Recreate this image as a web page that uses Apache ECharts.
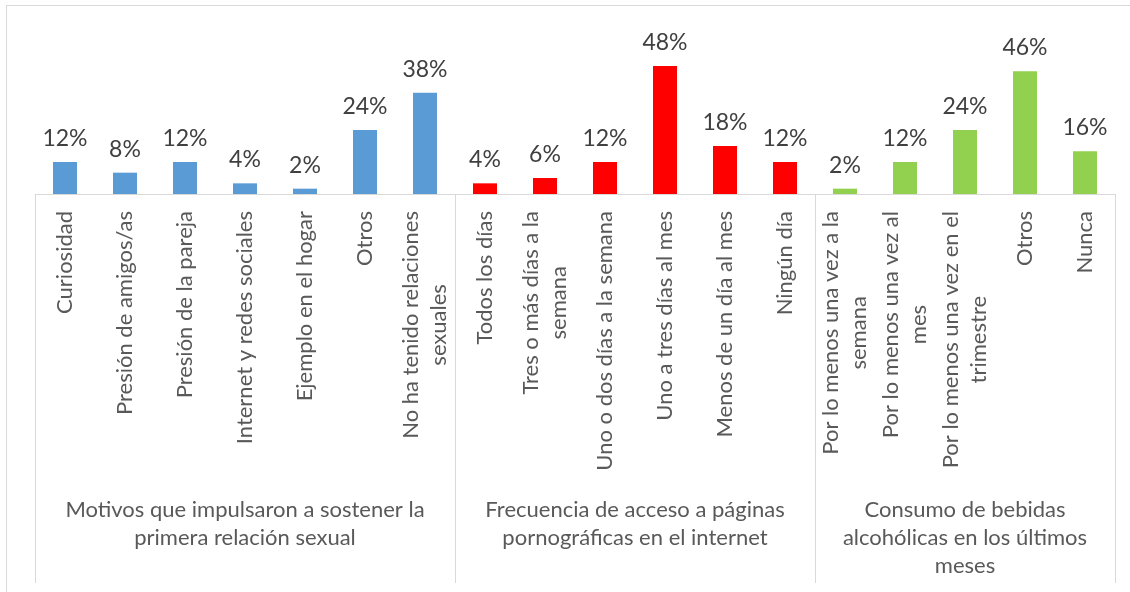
<!DOCTYPE html>
<html>
<head>
<meta charset="utf-8">
<script src="https://cdn.jsdelivr.net/npm/echarts@6/dist/echarts.min.js"></script>
<style>
  html, body { margin: 0; padding: 0; background: #fff; overflow: hidden; }
  .frame {
    position: absolute; left: 6px; top: 5px;
    width: 1200px; height: 700px;
    border: 1px solid #d9d9d9;
  }
  #chart { position: absolute; left: 0; top: 0; width: 1130px; height: 592px; }
</style>
</head>
<body>
<div class="frame"></div>
<div id="chart"></div>
<script>
// grupos de categorías
const groupNames = [
  'Motivos que impulsaron a sostener la\nprimera relación sexual',
  'Frecuencia de acceso a páginas\npornográficas en el internet',
  'Consumo de bebidas\nalcohólicas en los últimos\nmeses'
]
const motivos = ['Curiosidad', 'Presión de amigos/as', 'Presión de la pareja',
  'Internet y redes sociales', 'Ejemplo en el hogar', 'Otros', 'No ha tenido relaciones\nsexuales']
const frecuencia = ['Todos los días', 'Tres o más días a la\nsemana', 'Uno o dos días a la semana',
  'Uno a tres días al mes', 'Menos de un día al mes', 'Ningún día']
const consumo = ['Por lo menos una vez a la\nsemana', 'Por lo menos una vez al\nmes',
  'Por lo menos una vez en el\ntrimestre', 'Otros', 'Nunca']

// porcentajes
const motivosVals = [12, 8, 12, 4, 2, 24, 38]
const frecuenciaVals = [4, 6, 12, 48, 18, 12]
const consumoVals = [2, 12, 24, 46, 16]

const colors = ['#5b9bd5', '#ff0000', '#92d050']

const groups = [motivos, frecuencia, consumo]
const categories = [].concat(motivos, frecuencia, consumo)
const values = [].concat(motivosVals, frecuenciaVals, consumoVals)

// inicio de cada grupo y su centro (en unidades de categoría)
const starts = []
const centers = []
let acc = 0
groups.forEach(g => {
  starts.push(acc)
  centers.push(acc + g.length / 2)
  acc += g.length
})

const seriesData = values.map((v, i) => {
  let gi = 0
  while (gi < starts.length - 1 && i >= starts[gi + 1]) gi++
  return { value: v, itemStyle: { color: colors[gi] } }
})

const font = 'Lato'
const chart = echarts.init(document.getElementById('chart'))

const option = {
  animation: false,
  grid: { left: 35, right: 15, top: 34, bottom: 398, containLabel: false },
  xAxis: [
    {
      type: 'category',
      data: categories,
      axisLine: { lineStyle: { color: '#d9d9d9', width: 1 } },
      axisTick: {
        show: true,
        interval: (idx) => starts.indexOf(idx) >= 0,
        length: 389,
        lineStyle: { color: '#d9d9d9', width: 1 }
      },
      axisLabel: {
        interval: 0,
        rotate: 90,
        margin: 17,
        formatter: (val) => val.split('\n').map(s => '{c|' + s + '}').join('\n'),
        rich: {
          c: { align: 'center', fontSize: 22, fontFamily: font, color: '#595959', lineHeight: 28 }
        }
      }
    },
    {
      type: 'value',
      position: 'bottom',
      min: 0,
      max: categories.length,
      interval: 0.5,
      offset: 300,
      axisLine: { show: false },
      axisTick: { show: false },
      splitLine: { show: false },
      axisLabel: {
        margin: 2,
        fontSize: 22,
        fontFamily: font,
        color: '#595959',
        lineHeight: 28,
        formatter: (v) => {
          const k = centers.indexOf(v)
          return k >= 0 ? groupNames[k] : ''
        }
      }
    }
  ],
  yAxis: {
    type: 'value',
    min: 0,
    max: 60,
    show: false,
    splitLine: { show: false }
  },
  series: [
    {
      type: 'bar',
      xAxisIndex: 0,
      barWidth: 24,
      data: seriesData,
      label: {
        show: true,
        position: 'top',
        distance: 12,
        formatter: '{c}%',
        fontSize: 23,
        fontFamily: font,
        color: '#404040'
      }
    }
  ]
}

chart.setOption(option)
</script>
</body>
</html>
